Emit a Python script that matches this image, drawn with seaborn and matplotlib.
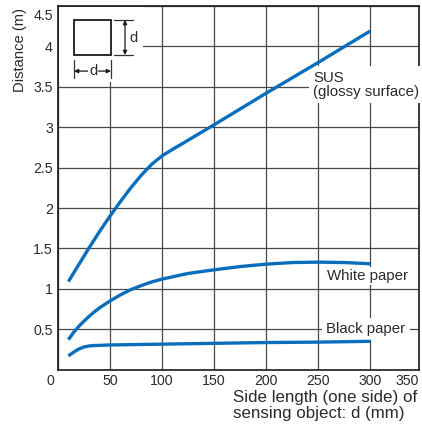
import matplotlib
matplotlib.use("Agg")
import matplotlib.pyplot as plt
import matplotlib.transforms as mtransforms
from matplotlib.patches import Rectangle
import pandas as pd
import seaborn as sns

# data (side length d in mm, distance in m)
sus_d = [10, 20, 30, 40, 50, 60, 70, 80, 90, 100, 110, 120, 150, 200, 250, 300]
sus_dist = [1.09, 1.30, 1.51, 1.71, 1.90, 2.08, 2.25, 2.405, 2.54, 2.645, 2.725, 2.80, 3.03, 3.42, 3.80, 4.19]

white_d = [10, 15, 20, 25, 30, 35, 40, 50, 60, 70, 80, 90, 100, 125, 150, 175, 200, 225, 250, 275, 300]
white_dist = [0.37, 0.46, 0.535, 0.60, 0.66, 0.715, 0.765, 0.85, 0.925, 0.99, 1.04, 1.085, 1.12,
              1.19, 1.235, 1.275, 1.305, 1.325, 1.33, 1.325, 1.31]

black_d = [10, 15, 20, 25, 30, 35, 40, 50, 100, 150, 200, 250, 300]
black_dist = [0.17, 0.215, 0.255, 0.28, 0.293, 0.298, 0.30, 0.305, 0.315, 0.325, 0.335, 0.34, 0.35]

x_ticks = [0, 50, 100, 150, 200, 250, 300, 347]
x_labels = ["0", "50", "100", "150", "200", "250", "300", "350"]
y_ticks = [0.5, 1, 1.5, 2, 2.5, 3, 3.5, 4, 4.5]
y_labels = ["0.5", "1", "1.5", "2", "2.5", "3", "3.5", "4", "4.5"]

df = pd.concat([
    pd.DataFrame({"d": sus_d, "dist": sus_dist, "obj": "SUS"}),
    pd.DataFrame({"d": white_d, "dist": white_dist, "obj": "White paper"}),
    pd.DataFrame({"d": black_d, "dist": black_dist, "obj": "Black paper"}),
])

sns.set_theme(style="white")
plt.rcParams["font.family"] = ["Liberation Sans", "DejaVu Sans"]

blue = "#0a6ebd"
ink = "#2a2a2a"

fig = plt.figure(figsize=(4.22, 4.28), dpi=100)
ax = fig.add_axes([58 / 422, 1 - 369.6 / 428, 361 / 422, 363.6 / 428])

sns.lineplot(data=df, x="d", y="dist", hue="obj", units="obj", estimator=None, sort=False,
             palette={"SUS": blue, "White paper": blue, "Black paper": blue},
             linewidth=2.4, legend=False, ax=ax, zorder=4)
for ln in ax.lines:
    ln.set_solid_capstyle("butt")
    ln.set_solid_joinstyle("round")

ax.set_xlim(0, 347)
ax.set_ylim(0, 4.5)
ax.set_xticks(x_ticks)
ax.set_xticklabels(x_labels, fontsize=10.2, color=ink)
ax.set_yticks(y_ticks)
ax.set_yticklabels(y_labels, fontsize=10.2, color=ink)
ax.set_axisbelow(True)
ax.grid(True, color="#4a4a4a", linewidth=0.9)
ax.tick_params(axis="x", length=0, pad=3.5)
ax.tick_params(axis="y", length=2.2, width=0.9, direction="out", pad=1.5, color="#444444")
for s in ax.spines.values():
    s.set_color("#1a1a1a")
    s.set_linewidth(1.2)

# nudge corner tick labels the way the reference does
xl = ax.get_xticklabels()
xl[0].set_ha("right")
xl[0].set_transform(xl[0].get_transform() + mtransforms.ScaledTranslation(-4 / 100, 0, fig.dpi_scale_trans))
xl[-1].set_ha("right")
yl = ax.get_yticklabels()
yl[-1].set_transform(yl[-1].get_transform() + mtransforms.ScaledTranslation(0, -8 / 100, fig.dpi_scale_trans))

ax.set_xlabel("Side length (one side) of\nsensing object: d (mm)", fontsize=12.2, color=ink,
              ha="left", multialignment="left", linespacing=1.1)
ax.xaxis.set_label_coords(0.485, -0.056)
ax.set_ylabel("Distance (m)", fontsize=10.6, color=ink, loc="top")
ax.yaxis.set_label_coords(-0.085, 0.995)

box = dict(facecolor="white", edgecolor="none", pad=1.5)
ax.text(245, 3.70, "SUS\n(glossy surface)", fontsize=10.8, color=ink, ha="left", va="top",
        linespacing=1.0, bbox=dict(facecolor="white", edgecolor="none", pad=3), zorder=3)
ax.text(259, 1.157, "White paper", fontsize=10.8, color=ink, ha="left", va="center", bbox=box, zorder=3)
ax.text(258, 0.502, "Black paper", fontsize=10.8, color=ink, ha="left", va="center",
        bbox=dict(facecolor="white", edgecolor="none", pad=3), zorder=3)

# inset: square object with dimension marks
tr = ax.transAxes
ax.add_patch(Rectangle((0.003, 0.79), 0.232, 0.207, transform=tr, facecolor="white",
                       edgecolor="none", zorder=2))
ax.add_patch(Rectangle((0.0443, 0.8652), 0.1025, 0.0963, transform=tr, fill=False,
                       edgecolor="#1a1a1a", linewidth=1.3, zorder=3))
for fy in (0.9615, 0.8652):
    ax.plot([0.155, 0.2078], [fy, fy], transform=tr, color="#333333", lw=0.9, zorder=3)
ax.annotate("", xy=(0.1856, 0.9615), xytext=(0.1856, 0.8652), xycoords=tr, textcoords=tr,
            arrowprops=dict(arrowstyle="<|-|>", color="#1a1a1a", lw=0.9, mutation_scale=6,
                            shrinkA=0, shrinkB=0), zorder=3)
ax.text(0.208, 0.912, "d", transform=tr, fontsize=10.5, color=ink, ha="center", va="center", zorder=3)
for fx in (0.0443, 0.1468):
    ax.plot([fx, fx], [0.802, 0.851], transform=tr, color="#333333", lw=0.9, zorder=3)
ax.annotate("", xy=(0.0443, 0.821), xytext=(0.1468, 0.821), xycoords=tr, textcoords=tr,
            arrowprops=dict(arrowstyle="<|-|>", color="#1a1a1a", lw=0.9, mutation_scale=6,
                            shrinkA=0, shrinkB=0), zorder=3)
ax.text(0.097, 0.821, "d", transform=tr, fontsize=10.5, color=ink, ha="center", va="center",
        bbox=dict(facecolor="white", edgecolor="none", pad=0.5), zorder=4)

fig.savefig("out.png", dpi=100)
